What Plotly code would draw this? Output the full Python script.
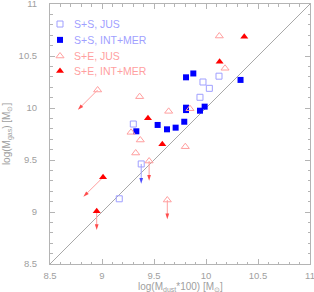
import plotly.graph_objects as go

# S+S, JUS (open squares)
ssj_x = [9.301, 9.377, 9.166, 9.942, 9.971, 10.032, 10.125]
ssj_y = [9.846, 9.462, 9.127, 10.103, 10.250, 10.189, 10.306]
# S+S, INT+MER (filled squares)
ssm_x = [9.330, 9.535, 9.625, 9.708, 9.791, 9.808, 9.808, 9.942, 9.987, 9.808, 9.878, 10.332]
ssm_y = [9.776, 9.837, 9.795, 9.811, 9.868, 10.003, 9.980, 9.974, 10.013, 10.295, 10.332, 10.270]
# S+E, JUS (open triangles)
sej_x = [8.958, 9.362, 9.279, 9.368, 9.324, 9.453, 9.628, 9.641, 9.846, 9.801, 10.128, 10.183]
sej_y = [10.173, 10.109, 9.766, 9.692, 9.567, 9.490, 9.115, 9.968, 9.993, 9.628, 10.692, 10.382]
# S+E, INT+MER (filled triangles)
sem_x = [9.442, 9.580, 9.010, 8.949, 10.131, 10.368]
sem_y = [9.901, 9.651, 9.333, 9.007, 10.445, 10.686]

# arrows: start -> end, group
arr_x0 = [8.958, 9.010, 8.949, 9.377, 9.453, 9.628]
arr_y0 = [10.173, 9.333, 9.007, 9.462, 9.490, 9.115]
arr_x1 = [8.768, 8.821, 8.949, 9.377, 9.453, 9.628]
arr_y1 = [9.983, 9.147, 8.827, 9.272, 9.301, 8.930]
arr_grp = ["SE", "SE", "SE", "SS", "SE", "SE"]

diag = [8.5, 11.0]
ticks = [8.5, 9.0, 9.5, 10.0, 10.5, 11.0]
tick_text = ["8.5", "9", "9.5", "10", "10.5", "11"]

legend_labels = ["S+S, JUS", "S+S, INT+MER", "S+E, JUS", "S+E, INT+MER"]
x_title = "log(M<sub>dust</sub>*100) [M<sub>⊙</sub>]"
y_title = "log(M<sub>gas</sub>) [M<sub>⊙</sub>]"

LB = "#9f9fff"
B = "#0000ff"
LR = "#ff9f9f"
R = "#ff0000"
GREY = "#b4b4b4"
TXT = "#a0a0a0"

styles = [
    dict(symbol="square-open", size=6, color=LB, line=dict(width=1, color=LB)),
    dict(symbol="square", size=6, color=B, line=dict(width=0)),
    dict(symbol="triangle-up-open", size=7, color=LR, line=dict(width=1, color=LR)),
    dict(symbol="triangle-up", size=7, color=R, line=dict(width=0)),
]
text_cols = [LB, LB, LR, LR]

fig = go.Figure()

fig.add_trace(go.Scatter(x=diag, y=diag, mode="lines",
                         line=dict(color="#a8a8a8", width=1), showlegend=False, hoverinfo="skip"))

for x0, y0, x1, y1, g in zip(arr_x0, arr_y0, arr_x1, arr_y1, arr_grp):
    lc = LB if g == "SS" else LR
    hc = B if g == "SS" else R
    fig.add_trace(go.Scatter(x=[x0, x1], y=[y0, y1], mode="lines+markers",
                             line=dict(color=lc, width=1),
                             marker=dict(symbol=["circle", "arrow"], size=[0, 6],
                                         angleref="previous", color=hc, line=dict(width=0)),
                             showlegend=False, hoverinfo="skip"))

for xs, ys, st, name in zip([ssj_x, ssm_x, sej_x, sem_x], [ssj_y, ssm_y, sej_y, sem_y], styles, legend_labels):
    fig.add_trace(go.Scatter(x=xs, y=ys, mode="markers", name=name, marker=st, showlegend=False))

# manual legend (keys on an overlay axis spanning the plot area 0..1)
leg_y = [0.923, 0.862, 0.800, 0.742]
for i, (st, lab, col) in enumerate(zip(styles, legend_labels, text_cols)):
    fig.add_trace(go.Scatter(x=[0.0385], y=[leg_y[i]], mode="markers", marker=st,
                             xaxis="x2", yaxis="y2", showlegend=False, hoverinfo="skip"))
    fig.add_annotation(x=0.085, y=leg_y[i], xref="paper", yref="paper", text=lab,
                       showarrow=False, xanchor="left", yanchor="middle",
                       font=dict(family="Liberation Sans", size=10.5, color=col))

# axis titles
fig.add_annotation(x=0.5, y=-0.089, xref="paper", yref="paper", text=x_title,
                   showarrow=False, xanchor="center", yanchor="middle",
                   font=dict(family="Liberation Sans", size=10, color=TXT))
fig.add_annotation(x=-0.165, y=0.5, xref="paper", yref="paper", text=y_title, textangle=-90,
                   showarrow=False, xanchor="center", yanchor="middle",
                   font=dict(family="Liberation Sans", size=10, color=TXT))

axis_common = dict(range=[8.5, 11], tickvals=ticks, ticktext=tick_text,
                   showgrid=False, zeroline=False, showline=True, linecolor=GREY, linewidth=1,
                   mirror="allticks", ticks="inside", ticklen=5, tickcolor=GREY, tickwidth=1,
                   ticklabeloverflow="allow", automargin=False,
                   tickfont=dict(family="Liberation Sans", size=9.5, color=TXT),
                   minor=dict(dtick=0.1, ticks="inside", ticklen=2.5, tickcolor=GREY, tickwidth=1, showgrid=False))

fig.update_layout(
    width=314, height=292,
    margin=dict(l=50, r=4, t=4, b=28, autoexpand=False),
    paper_bgcolor="white", plot_bgcolor="white",
    font=dict(family="Liberation Sans", size=10, color=TXT),
    showlegend=False,
    xaxis=dict(**axis_common, ticklabelstandoff=3),
    yaxis=dict(**axis_common, ticklabelstandoff=10),
    xaxis2=dict(range=[0, 1], overlaying="x", visible=False, fixedrange=True),
    yaxis2=dict(range=[0, 1], overlaying="y", visible=False, fixedrange=True),
)

fig.write_html("out.html", config={"displayModeBar": False},
               post_script="document.body.style.margin='0px';")
